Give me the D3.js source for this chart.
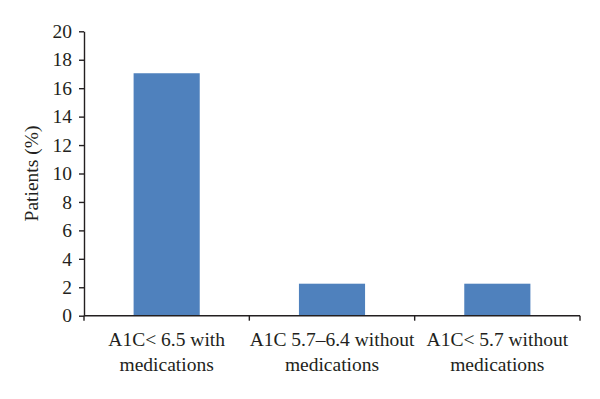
<!DOCTYPE html>
<html>
<head>
<meta charset="utf-8">
<script src="https://cdn.jsdelivr.net/npm/d3@7"></script>
<style>
  html, body { margin: 0; padding: 0; background: #fff; }
  svg { display: block; }
  text { font-family: "Liberation Serif", "DejaVu Serif", serif; fill: #231f20; }
</style>
</head>
<body>
<script>
const categories = ["A1C< 6.5 with|medications", "A1C 5.7–6.4 without|medications", "A1C< 5.7 without|medications"];
const values = [17.05, 2.25, 2.25];
const yTicks = [0, 2, 4, 6, 8, 10, 12, 14, 16, 18, 20];
const yLabel = "Patients (%)";

const W = 600, H = 399;
const m = { left: 84, right: 20, top: 31.3, bottom: 83.3 };
const FS = 19.5;
const FF = '"Liberation Serif", "Times New Roman", serif';
const svg = d3.select("body").append("svg").attr("width", W).attr("height", H);

const x = d3.scaleBand().domain(categories).range([m.left, W - m.right]).paddingInner(0.6).paddingOuter(0.3);
const y = d3.scaleLinear().domain([0, 20]).range([H - m.bottom, m.top]);

// bars
svg.append("g").selectAll("rect").data(values).join("rect")
  .attr("x", (d, i) => x(categories[i]))
  .attr("width", x.bandwidth())
  .attr("y", d => y(d))
  .attr("height", d => y(0) - y(d))
  .attr("fill", "#4f81bd");

// y axis
const ya = svg.append("g").attr("transform", `translate(${m.left},0)`)
  .call(d3.axisLeft(y).tickValues(yTicks).tickSize(5).tickSizeOuter(0).tickPadding(7));
ya.attr("font-size", null).attr("font-family", null);
ya.select(".domain").attr("stroke", "#231f20").attr("stroke-width", 1.4);
ya.selectAll(".tick line").attr("stroke", "#231f20").attr("stroke-width", 1.4);
ya.selectAll(".tick text").style("font-size", FS + "px").style("font-family", FF).attr("fill", "#231f20");

// x axis (ticks at category boundaries)
const x0 = m.left, x1 = W - m.right;
const step = (x1 - x0) / categories.length;
const bounds = d3.range(categories.length + 1).map(i => x0 + i * step);
const xa = svg.append("g");
xa.append("line").attr("x1", x0).attr("x2", x1).attr("y1", y(0)).attr("y2", y(0))
  .attr("stroke", "#231f20").attr("stroke-width", 1.4);
xa.selectAll("line.t").data(bounds).join("line").attr("class", "t")
  .attr("x1", d => d).attr("x2", d => d).attr("y1", y(0)).attr("y2", y(0) + 5)
  .attr("stroke", "#231f20").attr("stroke-width", 1.4);
const lab = xa.selectAll("text").data(categories).join("text")
  .attr("text-anchor", "middle")
  .style("font-size", FS + "px")
  .style("font-family", FF)
  .attr("x", d => x(d) + x.bandwidth() / 2)
  .attr("y", y(0) + 30);
lab.each(function(d) {
  const parts = d.split("|");
  const t = d3.select(this);
  parts.forEach((p, i) => {
    t.append("tspan").attr("x", t.attr("x")).attr("dy", i === 0 ? 0 : 25.5).text(p);
  });
});

// y label
svg.append("text")
  .attr("transform", `translate(38,${(y(0) + y(20)) / 2}) rotate(-90)`)
  .attr("text-anchor", "middle")
  .style("font-size", FS + "px")
  .style("font-family", FF)
  .text(yLabel);
</script>
</body>
</html>
